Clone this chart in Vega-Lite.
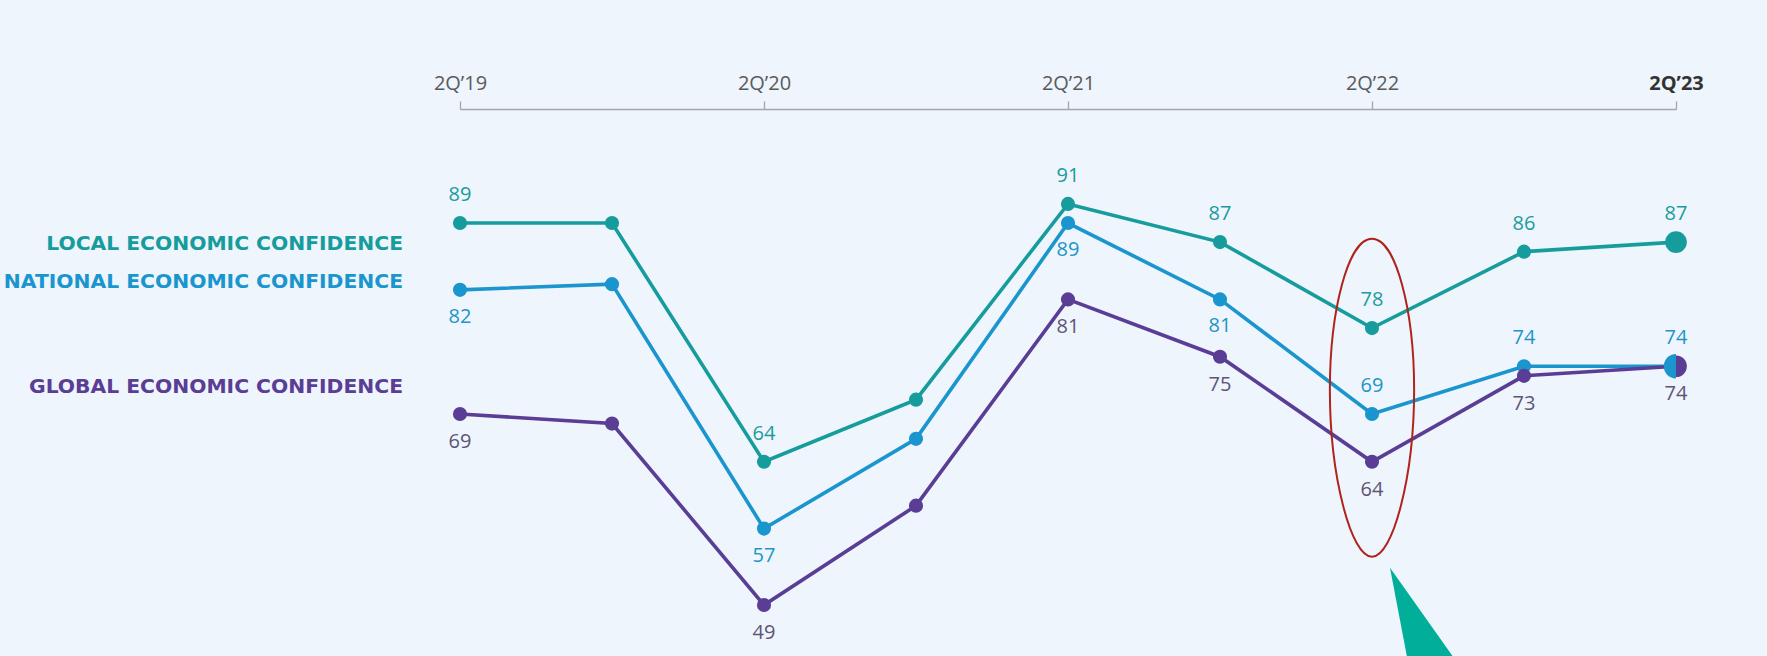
{
  "$schema": "https://vega.github.io/schema/vega-lite/v6.json",
  "width": 1216,
  "height": 547,
  "autosize": {"type": "none"},
  "padding": {"left": 460, "top": 109, "right": 91, "bottom": 0},
  "background": "#EEF5FC",
  "config": {"view": {"stroke": null}, "font": "Open Sans"},
  "datasets": {
    "series": [
      {"period": "2Q’19", "series": "Local", "value": 89},
      {"period": "4Q’19", "series": "Local", "value": 89},
      {"period": "2Q’20", "series": "Local", "value": 64},
      {"period": "4Q’20", "series": "Local", "value": 70.5},
      {"period": "2Q’21", "series": "Local", "value": 91},
      {"period": "4Q’21", "series": "Local", "value": 87},
      {"period": "2Q’22", "series": "Local", "value": 78},
      {"period": "4Q’22", "series": "Local", "value": 86},
      {"period": "2Q’23", "series": "Local", "value": 87},
      {"period": "2Q’19", "series": "National", "value": 82},
      {"period": "4Q’19", "series": "National", "value": 82.6},
      {"period": "2Q’20", "series": "National", "value": 57},
      {"period": "4Q’20", "series": "National", "value": 66.4},
      {"period": "2Q’21", "series": "National", "value": 89},
      {"period": "4Q’21", "series": "National", "value": 81},
      {"period": "2Q’22", "series": "National", "value": 69},
      {"period": "4Q’22", "series": "National", "value": 74},
      {"period": "2Q’23", "series": "National", "value": 74},
      {"period": "2Q’19", "series": "Global", "value": 69},
      {"period": "4Q’19", "series": "Global", "value": 68},
      {"period": "2Q’20", "series": "Global", "value": 49},
      {"period": "4Q’20", "series": "Global", "value": 59.4},
      {"period": "2Q’21", "series": "Global", "value": 81},
      {"period": "4Q’21", "series": "Global", "value": 75},
      {"period": "2Q’22", "series": "Global", "value": 64},
      {"period": "4Q’22", "series": "Global", "value": 73},
      {"period": "2Q’23", "series": "Global", "value": 74}
    ],
    "titles": [
      {"series": "Local", "label": "LOCAL ECONOMIC CONFIDENCE", "value": 86.8},
      {"series": "National", "label": "NATIONAL ECONOMIC CONFIDENCE", "value": 82.8},
      {"series": "Global", "label": "GLOBAL ECONOMIC CONFIDENCE", "value": 71.8}
    ],
    "notes": [
      {"period": "2Q’22", "kind": "ellipse", "value": 70.7},
      {"period": "2Q’22", "kind": "arrow", "value": 48.3}
    ]
  },
  "data": {"name": "series"},
  "encoding": {
    "x": {
      "field": "period",
      "type": "ordinal",
      "sort": null,
      "scale": {
        "type": "point",
        "padding": 0,
        "domain": ["2Q’19", "4Q’19", "2Q’20", "4Q’20", "2Q’21", "4Q’21", "2Q’22", "4Q’22", "2Q’23"]
      },
      "axis": {
        "orient": "top",
        "title": null,
        "values": ["2Q’19", "2Q’20", "2Q’21", "2Q’22", "2Q’23"],
        "labelAngle": 0,
        "domainColor": "#A3A7AB",
        "domainWidth": 1.3,
        "tickColor": "#A3A7AB",
        "tickWidth": 1.3,
        "tickSize": 8,
        "labelFontSize": 20,
        "labelPadding": 8,
        "labelColor": {"condition": {"test": "datum.value === '2Q’23'", "value": "#333333"}, "value": "#5A5A5A"},
        "labelFontWeight": {"condition": {"test": "datum.value === '2Q’23'", "value": "bold"}, "value": "normal"}
      }
    },
    "y": {
      "field": "value",
      "type": "quantitative",
      "scale": {"domain": [43.66, 100.94], "nice": false, "zero": false},
      "axis": null
    }
  },
  "layer": [
    {
      "mark": {"type": "line", "strokeWidth": 3.6},
      "encoding": {
        "color": {
          "field": "series",
          "type": "nominal",
          "scale": {"domain": ["Local", "National", "Global"], "range": ["#179C9D", "#1A95CE", "#5A3D94"]},
          "legend": null
        }
      }
    },
    {
      "transform": [{"filter": "datum.period !== '2Q’23'"}],
      "mark": {"type": "point", "filled": true, "opacity": 1, "size": 200, "shape": "circle"},
      "encoding": {"color": {"field": "series", "type": "nominal", "legend": null}}
    },
    {
      "transform": [{"filter": "datum.period === '2Q’23' && datum.series !== 'National'"}],
      "mark": {"type": "point", "filled": true, "opacity": 1, "size": 470, "shape": "circle"},
      "encoding": {"color": {"field": "series", "type": "nominal", "legend": null}}
    },
    {
      "transform": [{"filter": "datum.period === '2Q’23' && datum.series === 'National'"}],
      "mark": {"type": "point", "filled": true, "opacity": 1, "size": 600, "shape": "M 0 -1 C -0.5523 -1 -1 -0.5523 -1 0 C -1 0.5523 -0.5523 1 0 1 Z"},
      "encoding": {"color": {"field": "series", "type": "nominal", "legend": null}}
    },
    {
      "data": {"name": "notes"},
      "transform": [{"filter": "datum.kind === 'ellipse'"}],
      "mark": {"type": "point", "filled": false, "opacity": 1, "strokeWidth": 2, "color": "#B0241C", "size": 101124, "shape": "M 0 -1 C 0.15 -1 0.265 -0.55 0.265 -0.05 C 0.265 0.5 0.13 1 0 1 C -0.13 1 -0.265 0.5 -0.265 -0.05 C -0.265 -0.55 -0.15 -1 0 -1 Z"},
      "encoding": {}
    },
    {
      "data": {"name": "notes"},
      "transform": [{"filter": "datum.kind === 'arrow'"}],
      "mark": {"type": "point", "filled": true, "opacity": 1, "color": "#00AE9A", "size": 8100, "shape": "M 0.4 -0.978 L 0.787 1.05 L 1.836 1.05 Z"},
      "encoding": {}
    },
    {
      "transform": [{"filter": "datum.series === 'Local' && datum.period !== '4Q’19' && datum.period !== '4Q’20'"}],
      "mark": {"type": "text", "fontSize": 20, "dy": -28, "baseline": "middle", "color": "#1A9C9C"},
      "encoding": {"text": {"field": "value", "type": "quantitative"}}
    },
    {
      "transform": [{"filter": "datum.series === 'National' && indexof(['2Q’19', '2Q’20', '2Q’21', '4Q’21'], datum.period) >= 0"}],
      "mark": {"type": "text", "fontSize": 20, "dy": 27, "baseline": "middle", "color": "#2096C6"},
      "encoding": {"text": {"field": "value", "type": "quantitative"}}
    },
    {
      "transform": [{"filter": "datum.series === 'National' && indexof(['2Q’22', '4Q’22', '2Q’23'], datum.period) >= 0"}],
      "mark": {"type": "text", "fontSize": 20, "dy": -28, "baseline": "middle", "color": "#2096C6"},
      "encoding": {"text": {"field": "value", "type": "quantitative"}}
    },
    {
      "transform": [{"filter": "datum.series === 'Global' && datum.period !== '4Q’19' && datum.period !== '4Q’20'"}],
      "mark": {"type": "text", "fontSize": 20, "dy": 28, "baseline": "middle", "color": "#5E5478"},
      "encoding": {"text": {"field": "value", "type": "quantitative"}}
    },
    {
      "data": {"name": "titles"},
      "mark": {"type": "text", "font": "DejaVu Sans", "fontSize": 20.3, "fontWeight": "bold", "align": "right", "baseline": "middle", "dx": -57},
      "encoding": {
        "x": {"datum": "2Q’19"},
        "text": {"field": "label", "type": "nominal"},
        "color": {"field": "series", "type": "nominal", "legend": null}
      }
    }
  ]
}
